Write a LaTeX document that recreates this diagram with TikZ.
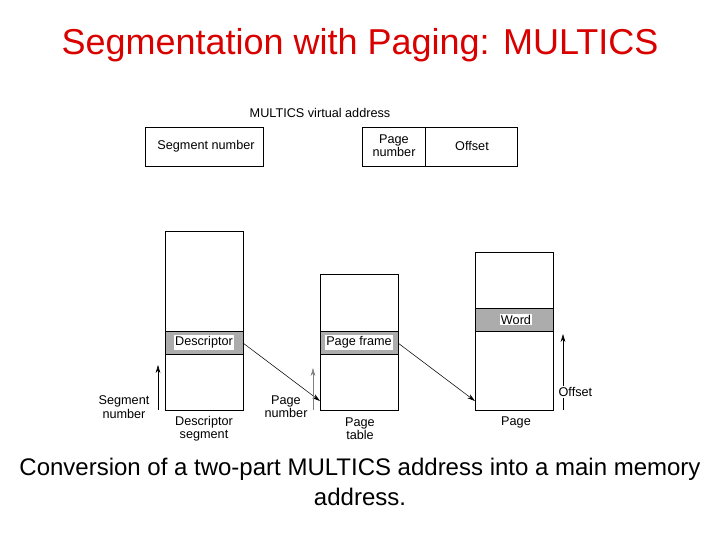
\documentclass[tikz,border=0pt]{standalone}
\usepackage{fontspec}
\setmainfont{Liberation Sans}
\usetikzlibrary{positioning,arrows.meta}

\begin{document}
\begin{tikzpicture}[>={Stealth[length=6pt,width=3.5pt]}, x=0.75pt, y=-0.75pt,
  lbl/.style={font=\fontsize{9.5}{10}\selectfont, align=center},
  band/.style={draw, fill=gray!65, line width=0.6pt},
  tab/.style={draw, line width=0.6pt}]
  % Page frame
  \useasboundingbox (0,0) rectangle (720,540);

  % Title
  \node[text=red!85!black, font=\fontsize{27}{30}\selectfont] (title) at (360,45) {Segmentation with Paging: MULTICS};

  % Virtual address
  \node[lbl] (valbl) at (320,113) {MULTICS virtual address};
  \draw[tab] (145,127) rectangle (263,166);
  \node[lbl] (segno) at (206,146) {Segment number};
  \draw[tab] (362,127) rectangle (517,166);
  \draw[tab] (425,127) -- (425,166);
  \node[lbl] (pgno) at (394,146) {Page\\number};
  \node[lbl] (off) at (472,146) {Offset};

  % Tables
  \draw[tab] (165,231) rectangle (243,410);
  \draw[band] (165,331) rectangle (243,354);
  \node[lbl, fill=white, inner sep=1pt] (desc) at (204,342.5) {Descriptor};
  \draw[tab] (320,274) rectangle (398,410);
  \draw[band] (320,331) rectangle (398,354);
  \node[lbl, fill=white, inner sep=1pt] (frame) at (359,342.5) {Page frame};
  \draw[tab] (475,252) rectangle (553,410);
  \draw[band] (475,308) rectangle (553,331);
  \node[lbl, fill=white, inner sep=1pt] (word) at (516,319.5) {Word};

  % Connectors
  \coordinate (d1) at (243,343);
  \coordinate (d2) at (320,401);
  \coordinate (f1) at (398,343);
  \coordinate (f2) at (475,401);
  \draw[->] (d1) -- (d2);
  \draw[->] (f1) -- (f2);

  % Index arrows
  \coordinate (s0) at (158,410); \coordinate (s1) at (158,365);
  \coordinate (p0) at (313,410); \coordinate (p1) at (313,368);
  \coordinate (o0) at (563,410); \coordinate (o1) at (563,334);
  \draw[->] (s0) -- (s1);
  \draw[->, gray] (p0) -- (p1);
  \draw[->] (o0) -- (o1);

  % Labels
  \node[lbl] (segl) at (124,407) {Segment\\number};
  \node[lbl] (pgl) at (286,407) {Page\\number};
  \node[lbl, anchor=west, fill=white, inner sep=1pt] (offl) at (557,392) {Offset};
  \node[lbl] (dsl) at (204,429) {Descriptor\\segment};
  \node[lbl] (ptl) at (360,429) {Page\\table};
  \node[lbl] (pl) at (516,422) {Page};

  % Caption
  \node[font=\fontsize{18}{22}\selectfont, align=center] (cap) at (360,482)
    {Conversion of a two-part MULTICS address into a main memory\\address.};
\end{tikzpicture}
\end{document}
